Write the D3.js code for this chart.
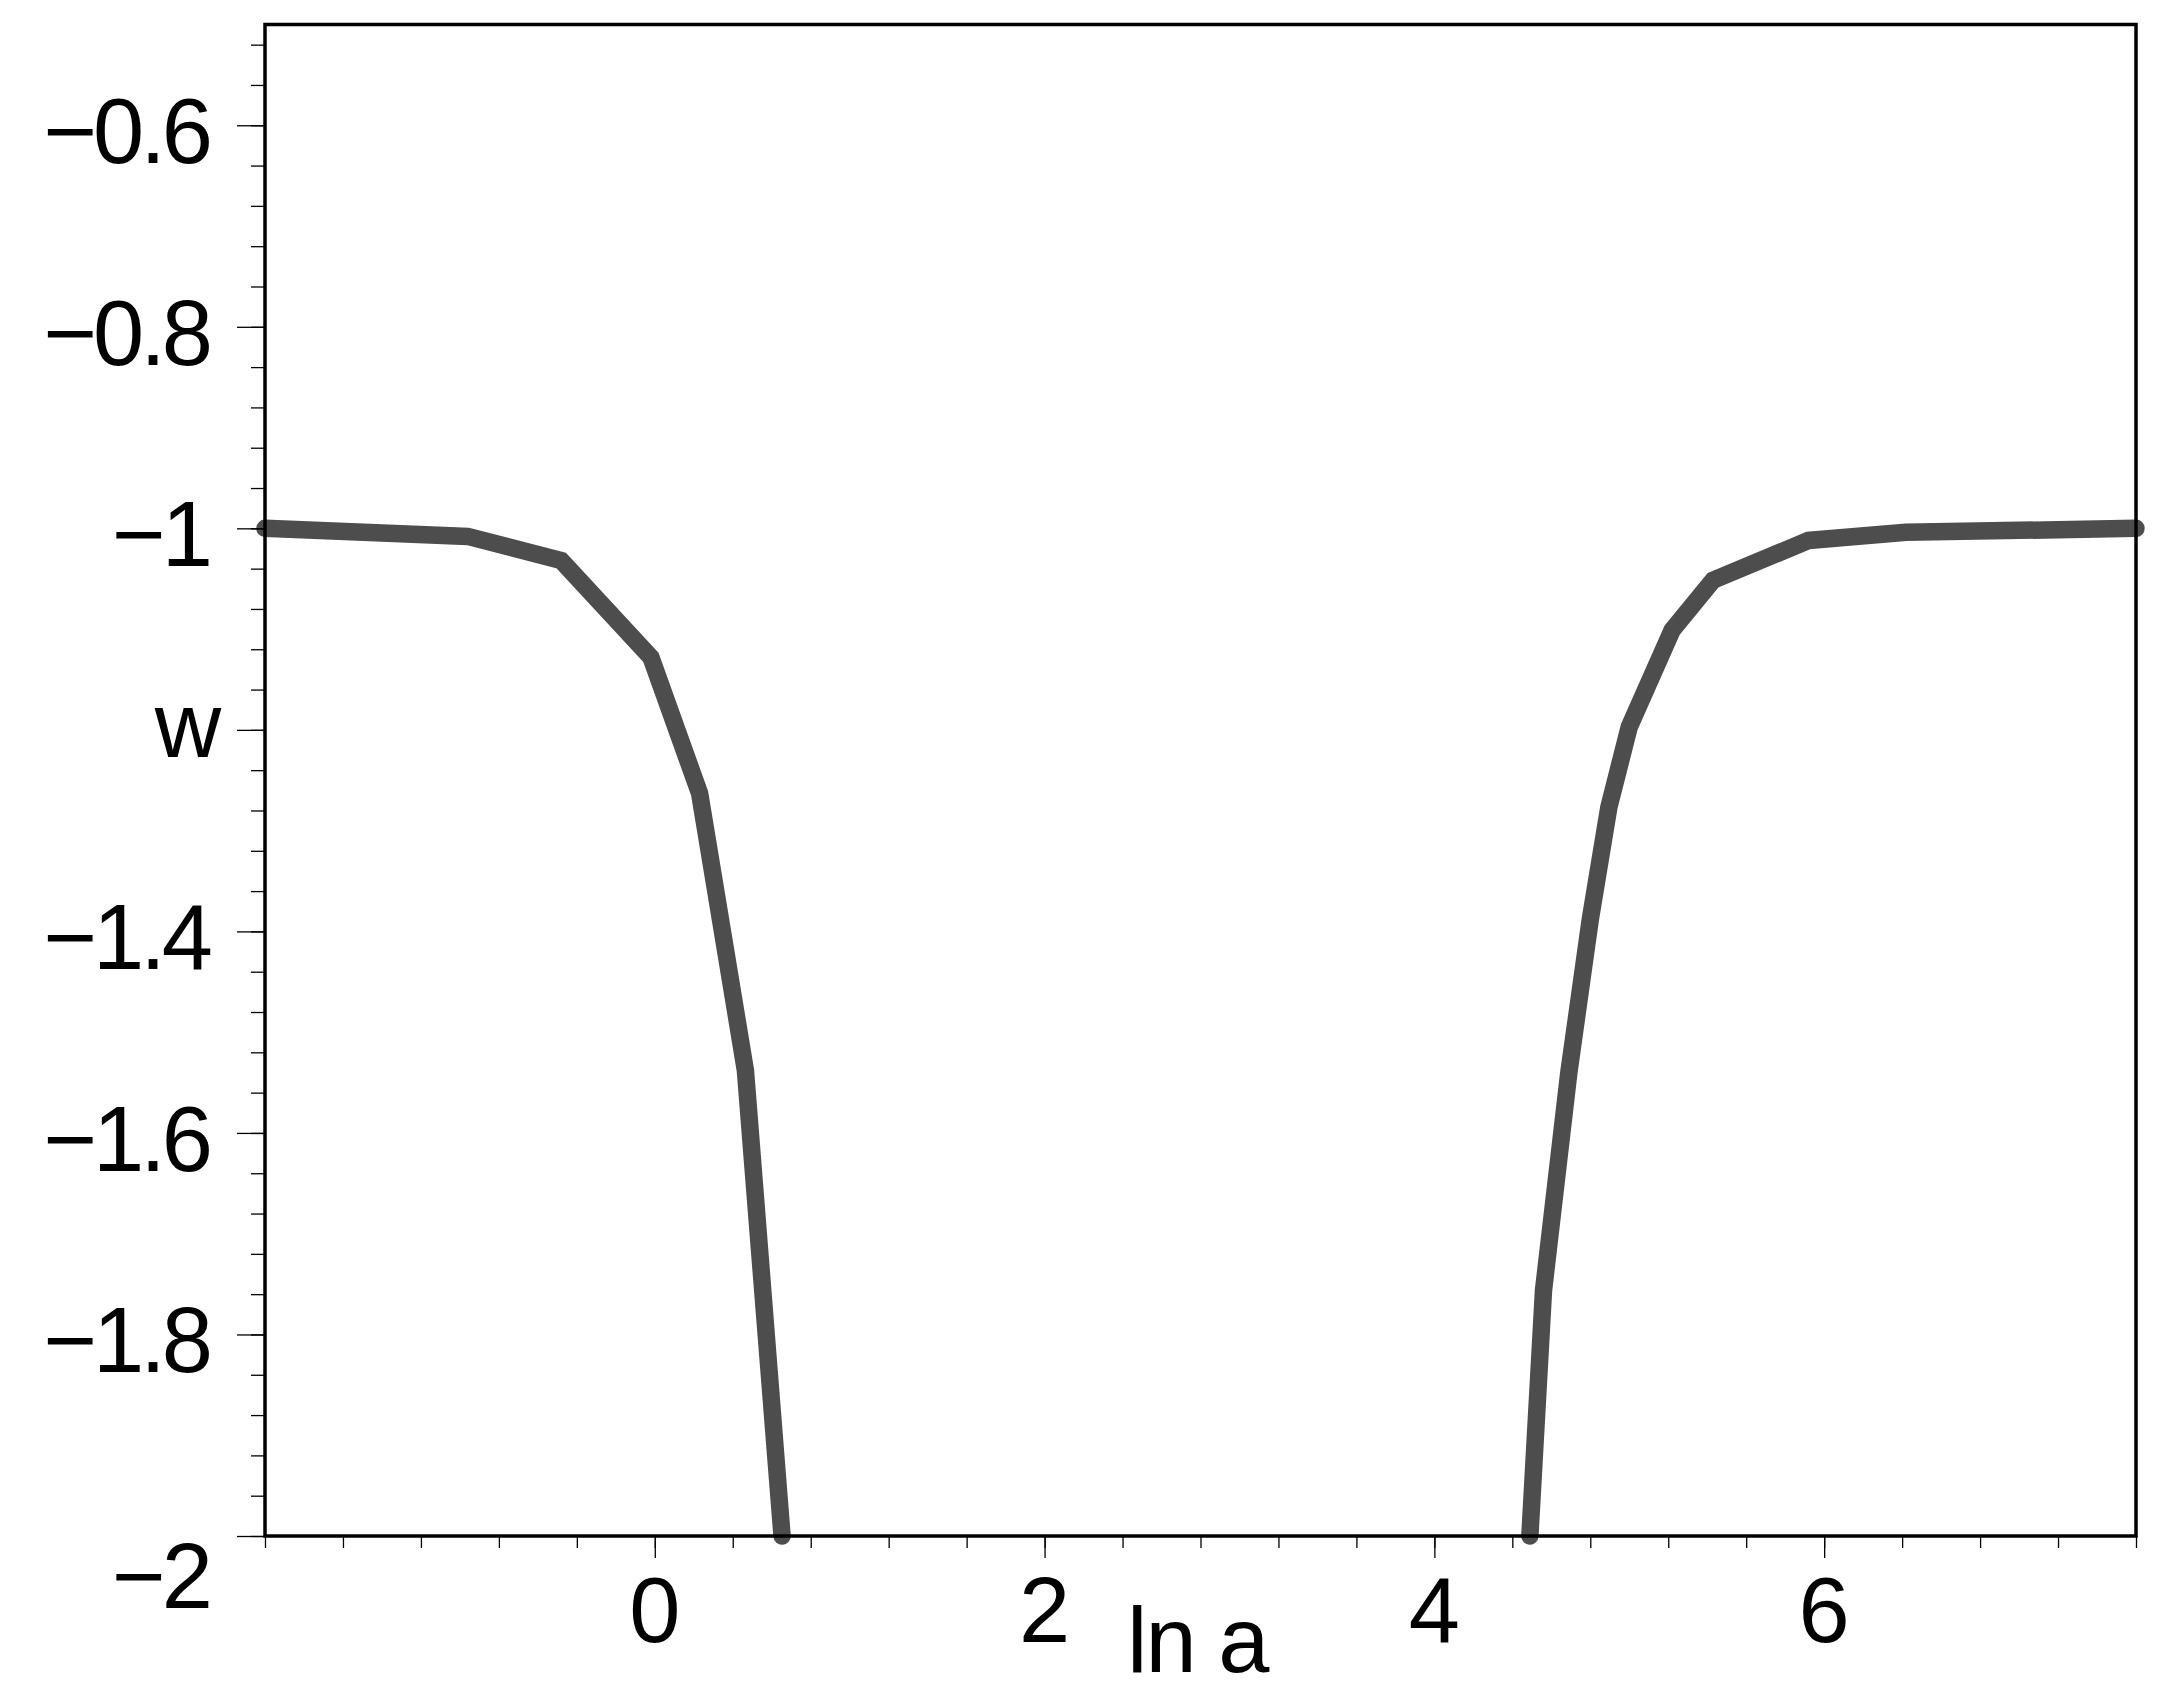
<!DOCTYPE html>
<html>
<head>
<meta charset="utf-8">
<script src="https://cdn.jsdelivr.net/npm/d3@7"></script>
<style>
  html, body { margin: 0; padding: 0; background: #fff; }
  svg { display: block; }
  text { font-family: "Liberation Sans", Arial, Helvetica, sans-serif; fill: #000; }
</style>
</head>
<body>
<svg id="chart" width="2183" height="1699"></svg>
<script>
// ---- data ----
const lnALeft  = [-2, -0.96, -0.48, -0.02, 0.23, 0.465, 0.653];
const wLeft    = [-1.0, -1.008, -1.032, -1.128, -1.263, -1.538, -2.0];
const lnARight = [4.49, 4.56, 4.69, 4.80, 4.895, 5.0, 5.22, 5.43, 5.92, 6.42, 7.6];
const wRight   = [-2.0, -1.756, -1.540, -1.388, -1.277, -1.197, -1.101, -1.0515, -1.012, -1.004, -1.0];

const xMajorTicks = [0, 2, 4, 6];
const xTickLabels = ["0", "2", "4", "6"];
const yMajorTicks = [-0.6, -0.8, -1, -1.4, -1.6, -1.8, -2];
const yTickLabels = ["\u22120.6", "\u22120.8", "\u22121", "\u22121.4", "\u22121.6", "\u22121.8", "\u22122"];
const xAxisTitle = "ln a";
const yAxisTitle = "w";
const yAxisTitleAt = -1.2;

// ---- layout ----
const svg = d3.select("#chart");
const x = d3.scaleLinear().domain([-2, 7.6]).range([265, 2136]);
const y = d3.scaleLinear().domain([-2, -0.5]).range([1536, 24.5]);

const xMinor = d3.range(-20, 77, 4).map(v => v / 10);
const yMinor = d3.range(-200, -49, 4).map(v => v / 100);
const yMajorAll = d3.range(-20, -4, 2).map(v => v / 10);

// ---- curve ----
const line = d3.line().x(d => x(d[0])).y(d => y(d[1]));
const seriesList = [d3.zip(lnALeft, wLeft), d3.zip(lnARight, wRight)];
svg.append("g").selectAll("path").data(seriesList).join("path")
  .attr("d", line)
  .attr("fill", "none")
  .attr("stroke", "#4d4d4d")
  .attr("stroke-width", 17.5)
  .attr("stroke-linecap", "round")
  .attr("stroke-linejoin", "miter");

// ---- axes ticks ----
function styleAxis(g) {
  g.select(".domain").remove();
  g.selectAll(".tick line").attr("stroke", "#000").attr("stroke-width", 1.3);
  g.selectAll(".tick text").remove();
}
const x0 = x.range()[0], x1 = x.range()[1], y0 = y.range()[0], y1 = y.range()[1];

svg.append("g").attr("transform", `translate(0,${y0})`)
  .call(d3.axisBottom(x).tickValues(xMinor).tickSize(12).tickFormat(""))
  .call(styleAxis);
svg.append("g").attr("transform", `translate(0,${y0})`)
  .call(d3.axisBottom(x).tickValues(xMajorTicks).tickSize(22).tickFormat(""))
  .call(styleAxis);
svg.append("g").attr("transform", `translate(${x0},0)`)
  .call(d3.axisLeft(y).tickValues(yMinor).tickSize(14).tickFormat(""))
  .call(styleAxis);
svg.append("g").attr("transform", `translate(${x0},0)`)
  .call(d3.axisLeft(y).tickValues(yMajorAll).tickSize(28).tickFormat(""))
  .call(styleAxis);

// ---- frame ----
svg.append("rect")
  .attr("x", x0).attr("y", y1)
  .attr("width", x1 - x0).attr("height", y0 - y1)
  .attr("fill", "none").attr("stroke", "#000").attr("stroke-width", 3.5);

// ---- tick labels ----
const FS = 92;
const yl = svg.append("g").attr("font-size", FS).attr("text-anchor", "end")
  .attr("letter-spacing", -4);
yMajorTicks.forEach((v, i) => {
  yl.append("text")
    .attr("x", 209)
    .attr("y", v === -2 ? y(v) + 72 : y(v) + 38)
    .text(yTickLabels[i]);
});
svg.append("text")
  .attr("x", 188).attr("y", y(yAxisTitleAt) + 27)
  .attr("text-anchor", "middle").attr("font-size", FS)
  .text(yAxisTitle);

const xl = svg.append("g").attr("font-size", FS).attr("text-anchor", "middle");
xMajorTicks.forEach((v, i) => {
  xl.append("text").attr("x", x(v)).attr("y", 1642).text(xTickLabels[i]);
});
svg.append("text")
  .attr("x", 1127).attr("y", 1672)
  .attr("font-size", FS).attr("letter-spacing", -2)
  .text(xAxisTitle);
</script>
</body>
</html>
